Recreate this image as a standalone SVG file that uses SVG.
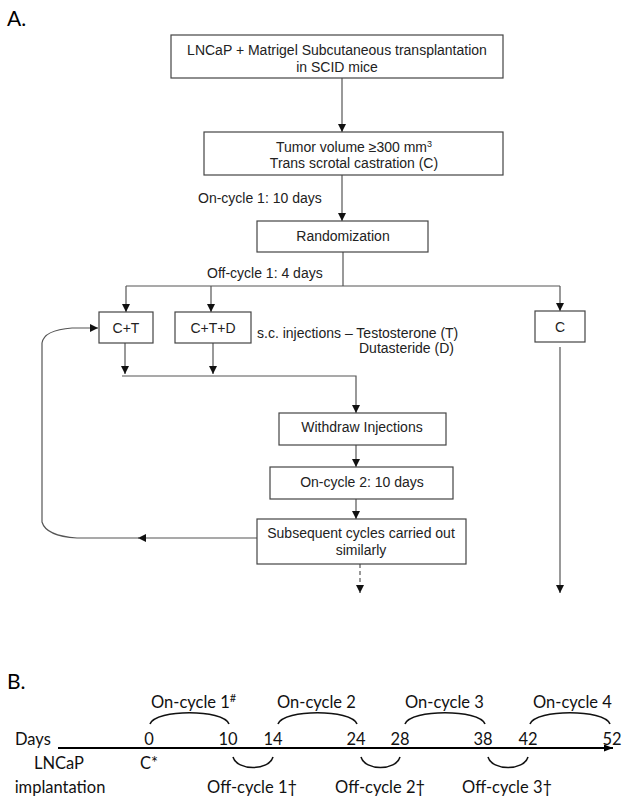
<svg xmlns="http://www.w3.org/2000/svg" width="629" height="804" viewBox="0 0 629 804">
<style>
.bx{fill:#fff;stroke:#444;stroke-width:1.2}
.t{font-family:"Liberation Sans",Arial,sans-serif;font-size:14px;fill:#222;text-anchor:middle}
.tl{font-family:"Liberation Sans",Arial,sans-serif;font-size:14px;fill:#222}
.ln{fill:none;stroke:#555;stroke-width:1.2}
.hd{font-family:Lato,"Open Sans",sans-serif;font-size:21px;fill:#000}
.b{font-family:Lato,"Open Sans",sans-serif;font-size:16.5px;fill:#111}
.bc{font-family:Lato,"Open Sans",sans-serif;font-size:16.5px;fill:#111;text-anchor:middle}
.arc{fill:none;stroke:#111;stroke-width:1.6}
</style>
<defs>
<marker id="ah" viewBox="0 0 10 10" refX="10" refY="5" markerWidth="8" markerHeight="8" markerUnits="userSpaceOnUse" orient="auto">
<path d="M0,0 L10,5 L0,10 z" fill="#111"/>
</marker>
<marker id="ab" viewBox="0 0 10 10" refX="10" refY="5" markerWidth="9" markerHeight="9" markerUnits="userSpaceOnUse" orient="auto">
<path d="M0,1 L10,5 L0,9 z" fill="#000"/>
</marker>
</defs>

<text class="hd" x="7" y="26">A.</text>
<text class="hd" x="7" y="689">B.</text>

<g id="connectors">
<line class="ln" x1="342" y1="78" x2="342" y2="132" marker-end="url(#ah)"/>
<line class="ln" x1="342" y1="175" x2="342" y2="221" marker-end="url(#ah)"/>
<line class="ln" x1="343" y1="252" x2="343" y2="286"/>
<line class="ln" x1="126" y1="286" x2="560" y2="286"/>
<line class="ln" x1="126" y1="286" x2="126" y2="312" marker-end="url(#ah)"/>
<line class="ln" x1="211" y1="286" x2="211" y2="312" marker-end="url(#ah)"/>
<line class="ln" x1="560" y1="286" x2="560" y2="311" marker-end="url(#ah)"/>
<line class="ln" x1="125" y1="343" x2="125" y2="374" marker-end="url(#ah)"/>
<line class="ln" x1="213" y1="343" x2="213" y2="374" marker-end="url(#ah)"/>
<polyline class="ln" points="122,376 356,376 356,413" marker-end="url(#ah)"/>
<line class="ln" x1="356" y1="445" x2="356" y2="467" marker-end="url(#ah)"/>
<line class="ln" x1="356" y1="499" x2="356" y2="519" marker-end="url(#ah)"/>
<line class="ln" x1="360" y1="564" x2="360" y2="593" stroke-dasharray="4,3" marker-end="url(#ah)"/>
<line class="ln" x1="560" y1="347" x2="560" y2="593" marker-end="url(#ah)"/>
<line class="ln" x1="257" y1="538" x2="138" y2="538" marker-end="url(#ah)"/>
<path class="ln" d="M140,538 L77,538 Q46,536 42,522 L42,343 Q44,330 72,328 L98,328" marker-end="url(#ah)"/>
</g>

<g id="n1">
<rect class="bx" x="171" y="35" width="332" height="43"/>
<text class="t" x="337" y="55">LNCaP + Matrigel Subcutaneous transplantation</text>
<text class="t" x="337" y="72">in SCID mice</text>
</g>
<g id="n2">
<rect class="bx" x="204" y="132" width="299" height="43"/>
<text class="t" x="354" y="152">Tumor volume ≥300 mm<tspan font-size="9" dy="-5">3</tspan></text>
<text class="t" x="354" y="168">Trans scrotal castration (C)</text>
</g>
<text class="tl" x="198" y="203">On-cycle 1: 10 days</text>
<g id="n3">
<rect class="bx" x="257" y="221" width="171" height="31"/>
<text class="t" x="343" y="241">Randomization</text>
</g>
<text class="tl" x="207" y="278">Off-cycle 1: 4 days</text>
<g id="n4">
<rect class="bx" x="99" y="312" width="54" height="31"/>
<text class="t" x="126" y="333">C+T</text>
</g>
<g id="n5">
<rect class="bx" x="175" y="312" width="76" height="31"/>
<text class="t" x="213" y="333">C+T+D</text>
</g>
<g id="n6">
<rect class="bx" x="535" y="311" width="50" height="31"/>
<text class="t" x="560" y="332">C</text>
</g>
<text class="tl" x="257" y="338">s.c. injections – Testosterone (T)</text>
<text class="tl" x="359" y="353">Dutasteride (D)</text>
<g id="n7">
<rect class="bx" x="279" y="413" width="167" height="32"/>
<text class="t" x="362" y="432">Withdraw Injections</text>
</g>
<g id="n8">
<rect class="bx" x="270" y="467" width="183" height="32"/>
<text class="t" x="362" y="487">On-cycle 2: 10 days</text>
</g>
<g id="n9">
<rect class="bx" x="257" y="519" width="209" height="45"/>
<text class="t" x="361" y="538">Subsequent cycles carried out</text>
<text class="t" x="361" y="555">similarly</text>
</g>

<g id="timeline">
<line x1="58" y1="748" x2="613" y2="748" stroke="#000" stroke-width="2" marker-end="url(#ab)"/>
<path class="arc" d="M150,724 C156,709 223,709 229,724"/>
<path class="arc" d="M278,724 C284,709 351,709 357,724"/>
<path class="arc" d="M405,724 C411,709 479,709 485,724"/>
<path class="arc" d="M530,724 C536,709 604,709 610,724"/>
<path class="arc" d="M233,757 C237,771 269,771 273,757"/>
<path class="arc" d="M361,757 C365,771 396,771 400,757"/>
<path class="arc" d="M488,757 C492,771 524,771 528,757"/>
<text class="b" x="15" y="745">Days</text>
<text class="bc" x="149" y="745">0</text>
<text class="bc" x="228" y="745">10</text>
<text class="bc" x="273" y="745">14</text>
<text class="bc" x="356" y="745">24</text>
<text class="bc" x="400" y="745">28</text>
<text class="bc" x="483" y="745">38</text>
<text class="bc" x="528" y="745">42</text>
<text class="bc" x="612" y="745">52</text>
<text class="b" x="151" y="708">On-cycle 1<tspan font-size="11" dy="-6">#</tspan></text>
<text class="b" x="277" y="708">On-cycle 2</text>
<text class="b" x="405" y="708">On-cycle 3</text>
<text class="b" x="533" y="708">On-cycle 4</text>
<text class="b" x="140" y="769">C*</text>
<text class="bc" x="59" y="769">LNCaP</text>
<text class="bc" x="60" y="793">implantation</text>
<text class="b" x="207" y="793">Off-cycle 1†</text>
<text class="b" x="335" y="793">Off-cycle 2†</text>
<text class="b" x="462" y="793">Off-cycle 3†</text>
</g>
</svg>
